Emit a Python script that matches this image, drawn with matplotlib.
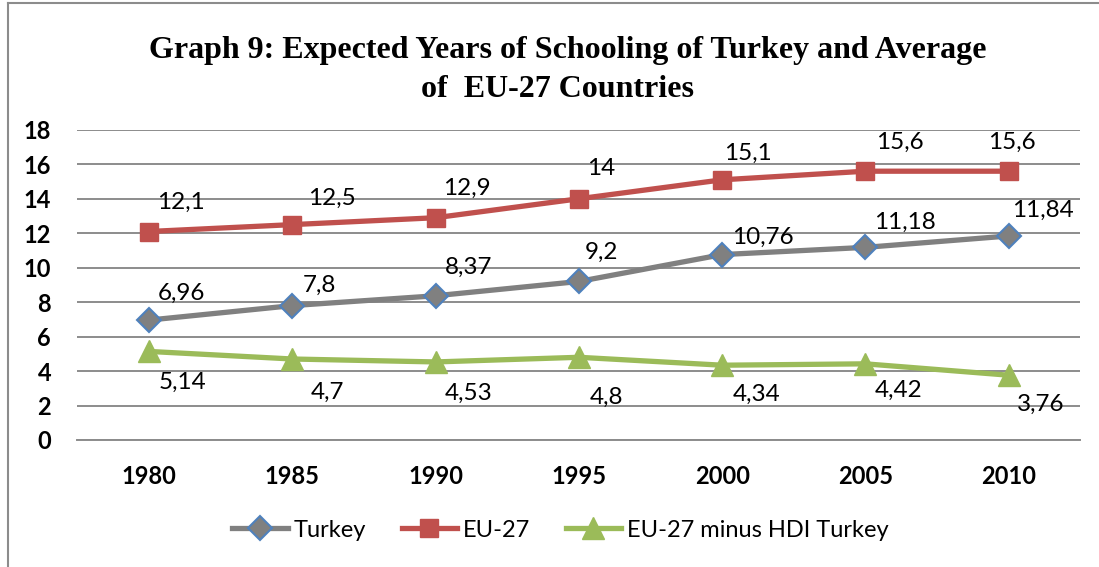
import matplotlib
matplotlib.use("Agg")
import matplotlib.pyplot as plt
from matplotlib.lines import Line2D

years = ["1980", "1985", "1990", "1995", "2000", "2005", "2010"]
turkey = [6.96, 7.8, 8.37, 9.2, 10.76, 11.18, 11.84]
eu27 = [12.1, 12.5, 12.9, 14, 15.1, 15.6, 15.6]
diff = [5.14, 4.7, 4.53, 4.8, 4.34, 4.42, 3.76]
turkey_lbl = ["6,96", "7,8", "8,37", "9,2", "10,76", "11,18", "11,84"]
eu27_lbl = ["12,1", "12,5", "12,9", "14", "15,1", "15,6", "15,6"]
diff_lbl = ["5,14", "4,7", "4,53", "4,8", "4,34", "4,42", "3,76"]

# label placement offsets (pixels) - layout only
turkey_off = [(32, 27), (27, 20), (33, 28), (23, 29), (41, 17), (39, 25), (34, 26)]
eu27_off = [(32, 29), (40, 26), (31, 29), (22, 30), (26, 26), (34, 29), (3, 29)]
diff_off = [(33, -31), (35, -33), (33, -31), (28, -40), (34, -29), (33, -27), (32, -29)]

plt.rcParams['font.family'] = ['Lato', 'DejaVu Sans']

fig = plt.figure(figsize=(10.99, 5.67), dpi=100)
ax = fig.add_axes([0.0705, 0.224, 0.9125, 0.547])

x = list(range(len(years)))
ax.plot(x, turkey, color="#808080", lw=3.8, marker="D", ms=12.5,
        mfc="#808080", mec="#4F81BD", mew=1.5, label="Turkey", zorder=3)
ax.plot(x, eu27, color="#C0504D", lw=3.8, marker="s", ms=12.5,
        mfc="#C0504D", mec="#C0504D", label="EU-27", zorder=3)
ax.plot(x, diff, color="#9BBB59", lw=3.8, marker="^", ms=16,
        mfc="#9BBB59", mec="#9BBB59", label="EU-27 minus HDI Turkey", zorder=3)

for xi, v, t, o in zip(x, turkey, turkey_lbl, turkey_off):
    ax.annotate(t, (xi, v), xytext=o, textcoords="offset pixels",
                ha="center", va="center", fontsize=17.5)
for xi, v, t, o in zip(x, eu27, eu27_lbl, eu27_off):
    ax.annotate(t, (xi, v), xytext=o, textcoords="offset pixels",
                ha="center", va="center", fontsize=17.5)
for xi, v, t, o in zip(x, diff, diff_lbl, diff_off):
    ax.annotate(t, (xi, v), xytext=o, textcoords="offset pixels",
                ha="center", va="center", fontsize=17.5)

ax.set_xlim(-0.5, len(years) - 0.5)
ax.set_ylim(0, 18)
ax.set_yticks(range(0, 19, 2))
ax.set_xticks(x)
ax.set_xticklabels(years, fontsize=17, fontweight="bold")
for lb in ax.get_yticklabels():
    lb.set_fontsize(17)
    lb.set_fontweight("bold")
ax.tick_params(axis="y", length=0, pad=19)
ax.tick_params(axis="x", length=0, pad=18)
ax.yaxis.grid(True, color="#8C8C8C", lw=1.4)
ax.set_axisbelow(True)
for s in ["top", "right", "left"]:
    ax.spines[s].set_visible(False)
ax.spines["bottom"].set_color("#8C8C8C")
ax.spines["bottom"].set_linewidth(1.4)

fig.text(0.517, 0.911, "Graph 9: Expected Years of Schooling of Turkey and Average",
         ha="center", va="center", fontsize=23, fontweight="bold",
         family="Liberation Serif")
fig.text(0.507, 0.843, "of  EU-27 Countries",
         ha="center", va="center", fontsize=23, fontweight="bold",
         family="Liberation Serif")

fig.legend(loc="center", bbox_to_anchor=(0.51, 0.065), ncol=3, frameon=False,
           fontsize=17, handlelength=2.35, columnspacing=1.5, handletextpad=0.25)

fig.add_artist(Line2D([8 / 1099, 1.0], [1 - 3 / 567, 1 - 3 / 567], transform=fig.transFigure,
                      color="#8C8C8C", lw=1.5))
fig.add_artist(Line2D([8 / 1099, 8 / 1099], [0.0, 1 - 3 / 567], transform=fig.transFigure,
                      color="#8C8C8C", lw=1.5))

fig.savefig("out.png", dpi=100)
